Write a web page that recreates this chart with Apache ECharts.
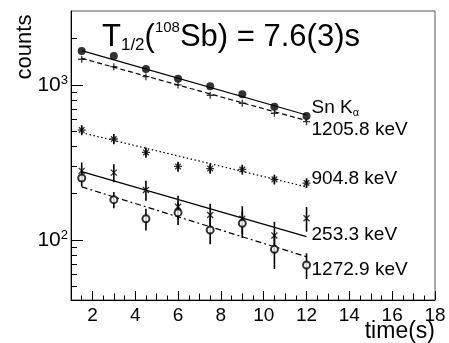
<!DOCTYPE html>
<html><head><meta charset="utf-8">
<script src="https://cdn.jsdelivr.net/npm/echarts@6/dist/echarts.min.js"></script>
<style>html,body{margin:0;padding:0;background:#fff}#c{width:449px;height:343px}</style>
</head><body><div id="c"></div>
<script>
// ---- data ----
const times = [1.5, 3, 4.5, 6, 7.5, 9, 10.5, 12];
const snKa = [1657, 1538, 1268, 1098, 981, 871, 724, 631];
const kev1205 = [1465, 1313, 1131, 1000, 858, 762, 657, 580];
const kev904 = [512, 448, 367, 298, 289, 285, 246, 233];
const kev904Err = [38, 34, 28, 22, 22, 21, 18, 17];
const kev253 = [279, 272, 210, 164, 145, 137, 107, 138];
const kev253Err = [37, 36, 31, 29, 26, 28, 24, 25];
const kev1272 = [251, 182, 137, 150, 116, 128, 87, 69];
const kev1272Err = [30, 22, 22, 25, 22, 25, 22, 13];
const fitX = [1.5, 12];
const fitSnKa = [1664, 640];
const fit1205 = [1486, 589];
const fit904 = [492, 220];
const fit253 = [276, 105];
const fit1272 = [220, 78];
const xMajorTicks = [2, 4, 6, 8, 10, 12, 14, 16, 18];
const xMidTicks = [3, 5, 7, 9, 11, 13, 15, 17];
const xMinorTicks = [1.5, 2.5, 3.5, 4.5, 5.5, 6.5, 7.5, 8.5, 9.5, 10.5, 11.5, 12.5, 13.5, 14.5, 15.5, 16.5, 17.5];
const yMajorTicks = [100, 1000];
const yMinorTicks = [50, 60, 70, 80, 90, 200, 300, 400, 500, 600, 700, 800, 900, 2000];
const labelSn = 'Sn K';
const labelAlpha = 'α';
const label1205 = '1205.8 keV';
const label904 = '904.8 keV';
const label253 = '253.3 keV';
const label1272 = '1272.9 keV';
const xTitle = 'time(s)';
const yTitle = 'counts';

// ---- chart ----
const FONT = 'Liberation Sans';
const chart = echarts.init(document.getElementById('c'), null, {renderer: 'canvas'});
const pair = (xs, ys) => xs.map((x, i) => [x, ys[i]]);
const XMIN = 1, XMAX = 18, YMIN = 41, YMAX = 3000;

function xAx(ticks, len, withLine, withLabel) {
  return {
    type: 'value', min: XMIN, max: XMAX, position: 'bottom',
    axisLine: {show: withLine, onZero: false, lineStyle: {color: '#000', width: 1}},
    axisTick: {show: true, inside: true, length: len, customValues: ticks, lineStyle: {color: '#000', width: 1}},
    axisLabel: withLabel ? {show: true, customValues: ticks, fontSize: 19, fontFamily: FONT, color: '#000', margin: 6} : {show: false},
    splitLine: {show: false}
  };
}
function yAx(ticks, len, withLine, withLabel) {
  return {
    type: 'log', logBase: 10, min: YMIN, max: YMAX, position: 'left',
    axisLine: {show: withLine, onZero: false, lineStyle: {color: '#000', width: 1}},
    axisTick: {show: true, inside: true, length: len, customValues: ticks, lineStyle: {color: '#000', width: 1}},
    axisLabel: withLabel ? {
      show: true, customValues: ticks, margin: 3, color: '#000',
      formatter: v => '{sp|\u200b}{b|10}{s|' + Math.round(Math.log10(v)) + '}',
      rich: {
        sp: {lineHeight: 22, fontSize: 10},
        b: {fontSize: 21, fontFamily: FONT, color: '#000', lineHeight: 14, verticalAlign: 'bottom'},
        s: {fontSize: 13, fontFamily: FONT, color: '#000', lineHeight: 14, verticalAlign: 'top'}
      }
    } : {show: false},
    splitLine: {show: false}
  };
}

function fitLine(ys, type, dy, labelFmt, rich) {
  return {
    type: 'line', xAxisIndex: 0, yAxisIndex: 0, data: pair(fitX, ys),
    symbol: 'none', showSymbol: false, silent: true, z: 2,
    lineStyle: {color: '#000', width: 1.2, type: type},
    endLabel: {show: true, formatter: labelFmt, distance: 5, offset: [0, dy], color: '#000',
      fontSize: 19, fontFamily: FONT, rich: rich}
  };
}
function pts(ys, symbol, size, style) {
  return {
    type: 'scatter', xAxisIndex: 0, yAxisIndex: 0, data: pair(times, ys),
    symbol: symbol, symbolSize: size, silent: true, z: 4,
    itemStyle: style
  };
}
function errBars(ys, errs) {
  return {
    type: 'custom', xAxisIndex: 0, yAxisIndex: 0, silent: true, z: 3,
    data: times.map((t, i) => [t, ys[i] - errs[i], ys[i] + errs[i]]),
    encode: {x: 0, y: [1, 2]},
    renderItem: (params, api) => {
      const a = api.coord([api.value(0), api.value(1)]);
      const b = api.coord([api.value(0), api.value(2)]);
      return {type: 'line', shape: {x1: a[0], y1: a[1], x2: b[0], y2: b[1]},
        style: {stroke: '#000', lineWidth: 1.6}};
    }
  };
}

const PLUS = 'path://M5,0L5,10M0,5L10,5';
const CROSS = 'path://M0,0L10,10M0,10L10,0';
const STAR = 'path://M5,0L5,10M0,5L10,5M1.5,1.5L8.5,8.5M1.5,8.5L8.5,1.5';
const strokeStyle = {color: 'rgba(0,0,0,0)', borderColor: '#000', borderWidth: 1.3};

const option = {
  animation: false,
  backgroundColor: '#fff',
  title: {
    text: '{m|T}{sub|1/2}{m|(}{sup|108}{m|Sb) = 7.6(3)s}',
    left: 102, top: 20, padding: 0,
    textStyle: {
      fontWeight: 'normal',
      rich: {
        m: {fontSize: 31, fontWeight: 'normal', fontFamily: FONT, color: '#000', lineHeight: 34, verticalAlign: 'middle'},
        sub: {fontSize: 17, fontWeight: 'normal', fontFamily: FONT, color: '#000', lineHeight: 24, verticalAlign: 'bottom'},
        sup: {fontSize: 15, fontWeight: 'normal', fontFamily: FONT, color: '#000', lineHeight: 22, verticalAlign: 'top'}
      }
    }
  },
  grid: {left: 71, right: 14, top: 11, bottom: 43, show: true, borderColor: '#555', borderWidth: 1,
    backgroundColor: 'transparent', outerBoundsMode: 'none', containLabel: false},
  xAxis: [
    xAx(xMajorTicks, 9, true, true),
    xAx(xMidTicks, 6.5, false, false),
    xAx(xMinorTicks, 4.5, false, false)
  ],
  yAxis: [
    yAx(yMajorTicks, 12, true, true),
    yAx(yMinorTicks, 6, false, false)
  ],
  graphic: [
    {type: 'text', x: 25, y: 47, rotation: Math.PI / 2,
      style: {text: yTitle, fontSize: 22, fontFamily: FONT, fill: '#000', align: 'center', verticalAlign: 'middle'}},
    {type: 'text', x: 435, y: 332,
      style: {text: xTitle, fontSize: 23, fontFamily: FONT, fill: '#000', align: 'right', verticalAlign: 'middle'}}
  ],
  series: [
    fitLine(fitSnKa, 'solid', -7, () => '{a|' + labelSn + '}{b|' + labelAlpha + '}',
      {a: {fontSize: 19, fontFamily: FONT, color: '#000', lineHeight: 20, verticalAlign: 'middle'},
       b: {fontSize: 11, fontFamily: FONT, color: '#000', lineHeight: 12, verticalAlign: 'bottom'}}),
    fitLine(fit1205, [5, 3], 9.5, () => label1205),
    fitLine(fit904, [1.5, 2.5], -8.5, () => label904),
    fitLine(fit253, 'solid', -1.5, () => label253),
    fitLine(fit1272, [6, 3, 2, 3], 13, () => label1272),
    errBars(kev904, kev904Err),
    errBars(kev253, kev253Err),
    errBars(kev1272, kev1272Err),
    pts(snKa, 'circle', 8, {color: '#000'}),
    pts(kev1205, PLUS, 7, strokeStyle),
    pts(kev904, STAR, 8, strokeStyle),
    pts(kev253, CROSS, 6, strokeStyle),
    pts(kev1272, 'emptyCircle', 7, {color: '#000', borderColor: '#000', borderWidth: 1.2})
  ]
};
chart.setOption(option);
</script>
</body></html>
